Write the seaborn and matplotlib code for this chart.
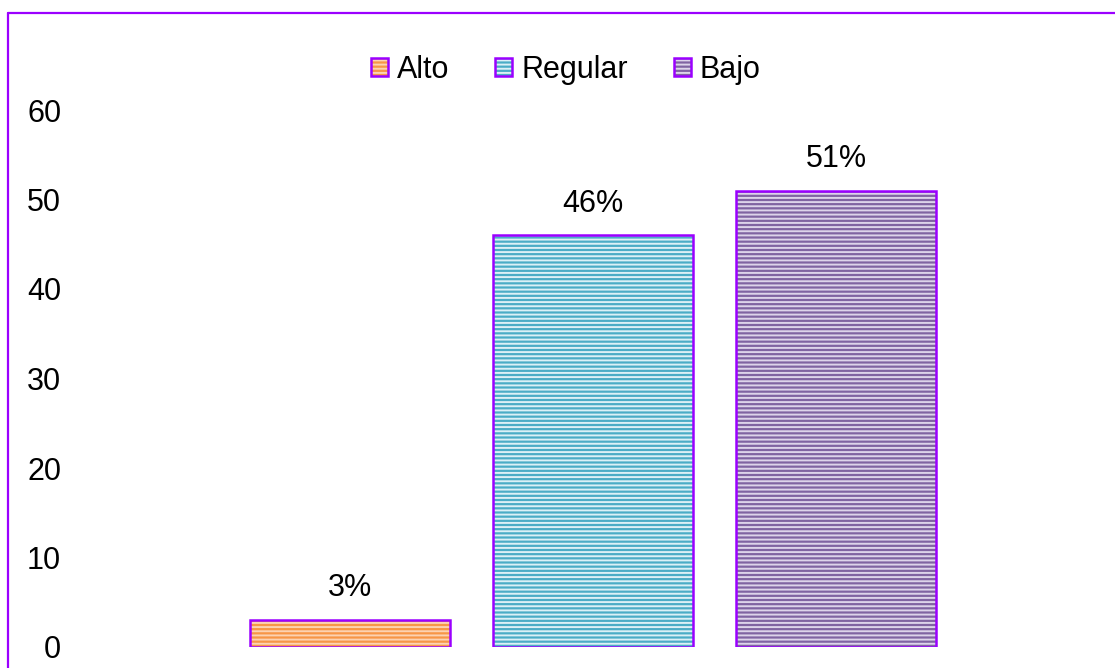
import matplotlib
matplotlib.use("Agg")
import matplotlib.pyplot as plt
from matplotlib.lines import Line2D
from matplotlib.patches import Patch
import seaborn as sns

# données
categories = ["Alto", "Regular", "Bajo"]
valeurs = [3, 46, 51]
etiquettes = ["3%", "46%", "51%"]
y_ticks = [0, 10, 20, 30, 40, 50, 60]

couleurs = ["#F79646", "#4BACC6", "#8064A2"]
rayures = ["#FCD3B2", "#DCF0F6", "#DDD4EA"]
violet = "#9B00FF"

sns.set_style("white")
plt.rcParams["font.family"] = ["Liberation Sans", "DejaVu Sans"]
plt.rcParams["text.color"] = "black"
plt.rcParams["ytick.color"] = "black"
plt.rcParams["hatch.linewidth"] = 1.4

fig = plt.figure(figsize=(11.15, 6.68), dpi=100)
ax = fig.add_axes([107 / 1115, 21 / 668, 972 / 1115, 537 / 668])

# barres remplies avec rayures horizontales
sns.barplot(x=categories, y=valeurs, hue=categories, palette=couleurs,
            width=0.82, legend=False, saturation=1, linewidth=0, ax=ax)
for patch, c in zip(ax.patches, rayures):
    patch.set_edgecolor(c)
    patch.set_hatch("----")
    patch.set_linewidth(0)

# contour violet
sns.barplot(x=categories, y=valeurs, fill=False, width=0.82,
            color=violet, linewidth=1.8, ax=ax, errorbar=None)

ax.bar_label(ax.containers[-1], labels=etiquettes, padding=12, fontsize=22,
             color="black")

ax.set_xlim(-1, 3)
ax.set_ylim(0, 60)
ax.set_yticks(y_ticks)
ax.set_xticks([])
ax.set_xlabel("")
ax.set_ylabel("")
ax.tick_params(axis="y", length=0, pad=33, labelsize=22, labelcolor="black")
sns.despine(ax=ax, left=True, bottom=True)

# légende
handles = []
for c, r in zip(couleurs, rayures):
    fond = Patch(facecolor=c, edgecolor=r, hatch="----", linewidth=0)
    bord = Patch(facecolor="none", edgecolor=violet, linewidth=1.8)
    handles.append((fond, bord))
fig.legend(handles, categories, loc="center", ncol=3, frameon=False,
           bbox_to_anchor=(566 / 1115, 1 - 70 / 668), fontsize=22,
           handlelength=0.55, handleheight=0.55, handletextpad=0.3,
           columnspacing=1.5)

# cadre du graphique (gauche et haut)
fig.add_artist(Line2D([7.5 / 1115, 7.5 / 1115], [0, 1 - 13 / 668],
                      color=violet, linewidth=1.6, transform=fig.transFigure))
fig.add_artist(Line2D([7.5 / 1115, 1], [1 - 13 / 668, 1 - 13 / 668],
                      color=violet, linewidth=1.6, transform=fig.transFigure))

fig.savefig("out.png", dpi=100)
